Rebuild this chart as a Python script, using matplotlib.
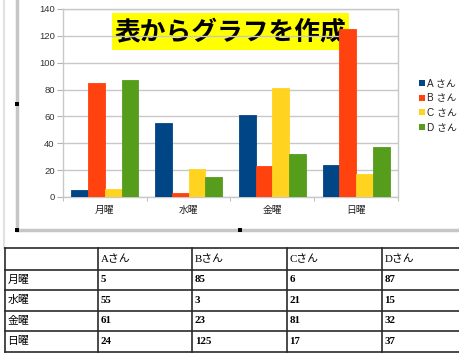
import matplotlib
matplotlib.use("Agg")
import matplotlib.pyplot as plt
from matplotlib.patches import Rectangle
import numpy as np

plt.rcParams['font.family'] = ['Liberation Sans', 'Noto Sans CJK JP', 'DejaVu Sans']

# ---- data ----
days = ["月曜", "水曜", "金曜", "日曜"]
people = ["Aさん", "Bさん", "Cさん", "Dさん"]
legend_labels = ["A さん", "B さん", "C さん", "D さん"]
a_vals = [5, 55, 61, 24]
b_vals = [85, 3, 23, 125]
c_vals = [6, 21, 81, 17]
d_vals = [87, 15, 32, 37]
series = [a_vals, b_vals, c_vals, d_vals]
colors = ["#004586", "#ff420e", "#ffd320", "#579d1c"]
yticks = [0, 20, 40, 60, 80, 100, 120, 140]
title = "表からグラフを作成"

W, H = 460, 356
fig = plt.figure(figsize=(W / 100, H / 100), dpi=100)

def fx(px):
    return px / W

def fy(py):
    return 1 - py / H

# overlay for decorations (pixel coordinates)
ov = fig.add_axes([0, 0, 1, 1])
ov.set_xlim(0, W)
ov.set_ylim(H, 0)
ov.axis('off')

# chart axes
x0, x1, ytop, ybot = 63, 398, 9, 197
ax = fig.add_axes([fx(x0), fy(ybot), fx(x1 - x0), (ybot - ytop) / H])
ax.set_zorder(2)
ax.patch.set_alpha(0)
bw = 0.2
xc = np.arange(len(days)) + 0.5
for i, (vals, col) in enumerate(zip(series, colors)):
    ax.bar(xc + (i - 1.5) * bw, vals, width=bw, color=col, edgecolor=col,
           linewidth=0.6, zorder=3, label=legend_labels[i])
ax.set_xlim(0, len(days))
ax.set_ylim(0, 140)
ax.set_yticks(yticks)
ax.set_yticklabels([str(v) for v in yticks], fontsize=6.8, color="#333333")
ax.set_xticks(xc)
ax.set_xticklabels(days, fontsize=7, color="#222222")
ax.tick_params(axis='x', length=0, pad=6)
ax.set_xticks(np.arange(len(days) + 1), minor=True)
ax.tick_params(axis='x', which='minor', length=3, color="#b3b3b3", direction='out')
ax.tick_params(axis='y', length=4, color="#b3b3b3", pad=2)
ax.grid(axis='y', color="#c8c8c8", linewidth=1.0, zorder=0)
for s in ax.spines.values():
    s.set_color("#c8c8c8")
    s.set_linewidth(1.0)

# title box
ov.add_patch(Rectangle((112, 13), 237, 37, facecolor="#ffff00", edgecolor="none", zorder=5))
ov.text(230.5, 32, title, fontsize=18.5, fontweight='bold', color="black",
        ha='center', va='center', family=['Noto Sans CJK JP'], zorder=6)

# legend
ly0, ldy = 83, 14.7
for i, (lab, col) in enumerate(zip(legend_labels, colors)):
    y = ly0 + i * ldy
    ov.add_patch(Rectangle((419, y - 3), 6, 6, facecolor=col, edgecolor='none'))
    ov.text(427, y, lab, fontsize=7.2, color="#222222", ha='left', va='center',
            family=['Liberation Sans', 'Noto Sans CJK JP'])

# frame lines around chart object
ov.plot([4.5, 4.5], [0, 248], color="#e2e2e2", lw=1.5)
ov.plot([17, 17], [0, 230], color="#c6c6c6", lw=2.5)
ov.plot([17, W], [230, 230], color="#c6c6c6", lw=2.5)
for (hx, hy) in [(17, 104), (17, 230), (240, 230)]:
    ov.add_patch(Rectangle((hx - 1.8, hy - 1.8), 3.6, 3.6, facecolor='black', edgecolor='none', zorder=7))

# table
col_x = [5, 98.3, 192.3, 286.7, 381.7, W + 5]
row_y = [248.3, 270, 290, 310.7, 330.7, 351.7]
for y in row_y:
    ov.plot([col_x[0], W], [y, y], color="#2a2a2a", lw=1.2)
for x in col_x[:-1]:
    ov.plot([x, x], [row_y[0], row_y[-1]], color="#2a2a2a", lw=1.2)

fam_t = ['Liberation Serif', 'Noto Sans CJK JP']
for j, p in enumerate(people):
    ov.text(col_x[j + 1] + 2.5, (row_y[0] + row_y[1]) / 2, p, fontsize=7.8,
            ha='left', va='center', family=fam_t, color='black')
for r, day in enumerate(days):
    yc = (row_y[r + 1] + row_y[r + 2]) / 2
    ov.text(col_x[0] + 2.5, yc, day, fontsize=7.8, ha='left', va='center',
            family=['Noto Sans CJK JP'], color='black')
    for j, vals in enumerate(series):
        ov.text(col_x[j + 1] + 2.5, yc, str(vals[r]), fontsize=7.8, ha='left',
                va='center', family=fam_t, color='black', fontweight='bold')

fig.savefig("out.png", dpi=100)
